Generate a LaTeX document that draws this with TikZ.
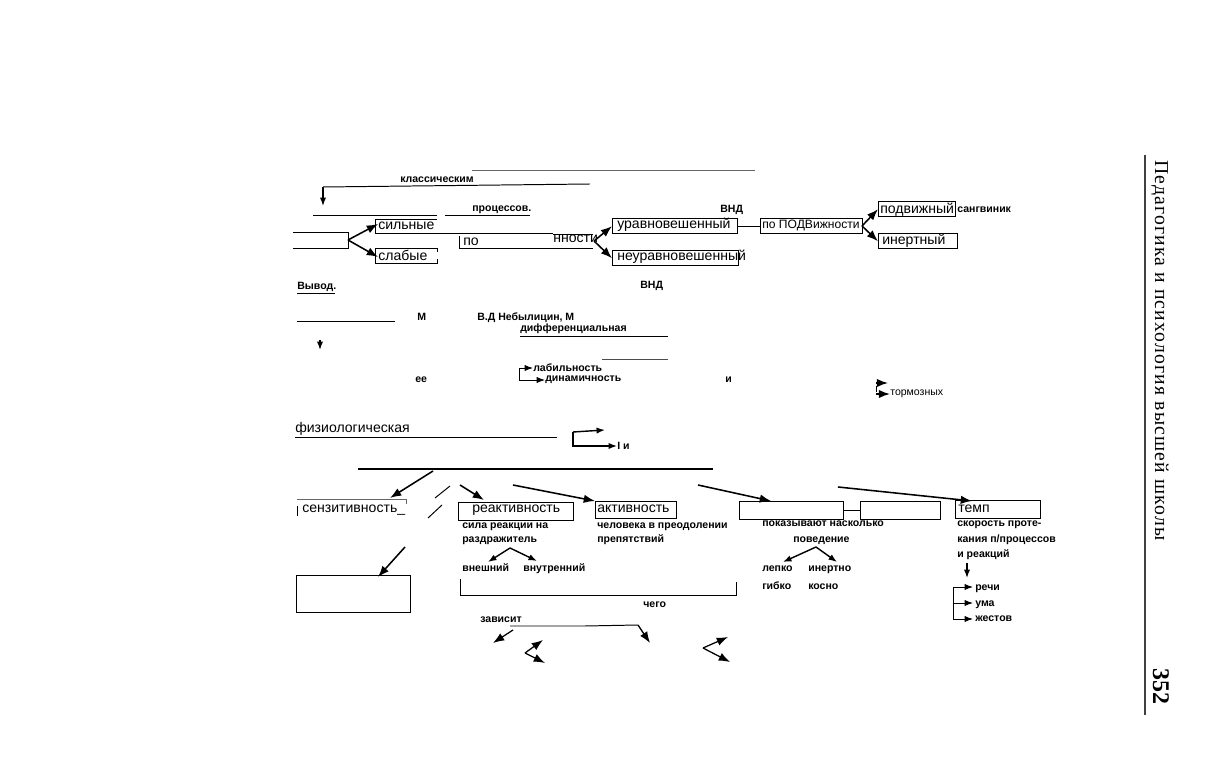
\documentclass[tikz,border=0pt]{standalone}
\usepackage{fontspec}
\setmainfont{Liberation Sans}
\newfontfamily\headfont[LetterSpace=6]{Liberation Serif}
\newfontfamily\numfont{Liberation Serif}
\usetikzlibrary{arrows.meta}

\tikzset{
  lab/.style={inner sep=0pt, anchor=base west, font=\fontsize{10}{12}\selectfont},
  sml/.style={inner sep=0pt, anchor=base west, font=\fontsize{7.5}{9}\selectfont\bfseries},
  arr/.style={-{Latex[length=8pt,width=6pt]}, line width=1.1pt},
  arrs/.style={-{Latex[length=6pt,width=4.5pt]}, line width=0.7pt},
  ln/.style={line width=0.7pt},
  box/.style={draw, line width=1pt, inner sep=0pt, anchor=north west},
}

\begin{document}
\begin{tikzpicture}[x=0.025cm, y=-0.025cm]
 \useasboundingbox[fill=white] (0,0) rectangle (1224,760);

 %%%%%%%%%% Points pour travailler %%%%%%%%%%
 \coordinate (t1) at (472,170);
 \coordinate (t2) at (755,170);
 \coordinate (k1) at (590,184);
 \coordinate (k2) at (323,187);
 \coordinate (k3) at (323,206);
 \coordinate (g) at (348,240);
 \coordinate (n) at (594,241);
 \coordinate (pd) at (862,226);

 %%%%%%%%%% Boites du haut %%%%%%%%%%
 \node [box, minimum width=3.125cm, minimum height=0.375cm] (urav) at (612,218) {};
 \node [box, minimum width=3.15cm, minimum height=0.375cm] (neurav) at (612,250) {};
 \node [box, minimum width=2.55cm, minimum height=0.375cm] (podv) at (760,218) {};
 \node [box, minimum width=1.925cm, minimum height=0.375cm] (podvizh) at (878,201) {};
 \node [box, minimum width=1.975cm, minimum height=0.375cm] (inert) at (878,233) {};

 % lignes du haut
 \draw [ln, black!60] (t1) -- (t2) ;
 \node [sml] (klass) at (400,183) {классическим};
 \draw [ln] (k1) -- (k2) ;
 \draw [arrs, line width=1pt] (k2) -- (k3) ;
 \draw [ln] (313,215) -- (437,215) ;
 \draw [ln] (445,215) -- (530,215) ;
 \node [sml] (proc) at (472,212) {процессов.};
 \node [sml] (vnd1) at (720,213) {ВНД};

 % sila
 \draw [ln] (293,232) -- (348,232) -- (348,248) -- (293,248) ;
 \draw [ln] (437,219) -- (375,219) -- (375,233) -- (553,233) ;
 \draw [ln] (437,252) -- (437,248) -- (375,248) -- (375,263) -- (437,263) -- (437,259) ;
 \node [lab] (silnye) at (378,230) {сильные};
 \node [lab] (slabye) at (378,261) {слабые};
 \draw [arr] (g) -- (silnye.west |- 0,224) ;
 \draw [arr] (g) -- (slabye.west |- 0,257) ;

 % uravnoveshennost
 \draw [ln] (459,236) -- (459,248) -- (593,248) ;
 \draw [ln] (553,234) -- (593,234) ;
 \node [lab] (po) at (463,246) {по};
 \node [lab] (nnosti) at (553,243) {нности};
 \draw [arr] (n) -- (urav.west) ;
 \draw [arr] (n) -- (neurav.west) ;
 \node [lab] (uravt) at (617,229) {уравновешенный};
 \node [lab] (neuravt) at (617,261) {неуравновешенный};

 % podvizhnost
 \draw [ln] (urav.east) -- (podv.west) ;
 \node [lab, font=\fontsize{8.6}{10}\selectfont] (podvt) at (762,229) {по ПОДВижности};
 \draw [arr] (pd) -- (podvizh.west) ;
 \draw [arr] (pd) -- (inert.west) ;
 \node [lab] (podvizht) at (880,214) {подвижный};
 \node [lab] (inertt) at (882,245) {инертный};
 \node [sml] (sangv) at (957,213) {сангвиник};

 %%%%%%%%%% Milieu %%%%%%%%%%
 \node [sml] (vyvod) at (297,290) {Вывод.};
 \draw [ln] (297,293) -- (335,293) ;
 \node [sml] (vnd2) at (640,289) {ВНД};
 \draw [ln] (297,321) -- (395,321) ;
 \node [sml] (m1) at (417,321) {М};
 \node [sml] (nebyl) at (477,321) {В.Д Небылицин,};
 \node [sml] (m2) at (565,321) {М};
 \node [sml] (diff) at (520,332) {дифференциальная};
 \draw [ln] (520,336) -- (668,336) ;
 \draw [arrs, line width=1pt] (320,340) -- (320,350) ;
 \draw [ln, black!70] (602,359) -- (668,359) ;

 \node [sml] (labil) at (533,372) {лабильность};
 \node [sml] (dinam) at (545,382) {динамичность};
 \draw [arrs] (519,368) -- (labil.west |- 0,368) ;
 \draw [arrs] (519,368) |- (dinam.west |- 0,380) ;
 \node [sml] (ee) at (415,383) {ее};
 \node [sml] (i1) at (725,383) {и};

 \node [sml, font=\fontsize{7.5}{9}\selectfont] (torm) at (890,396) {тормозных};
 \draw [arr] (876,383) -- (888,383) ;
 \draw [arr] (876,394) -- (torm.west |- 0,394) ;
 \draw [ln] (876,386) -- (876,392) ;

 \node [lab] (fiz) at (295,433) {физиологическая};
 \draw [ln] (295,437) -- (557,437) ;
 \draw [arrs, line width=1pt] (573,432) -- (605,430) ;
 \node [sml] (i2) at (617,450) {I и};
 \draw [arrs, line width=1pt] (573,432) |- (i2.west |- 0,446) ;

 %%%%%%%%%% Rangee des boites %%%%%%%%%%
 \coordinate (h1) at (358,469);
 \coordinate (h2) at (713,469);
 \draw [line width=1pt] (h1) -- (h2) ;

 \node [box, minimum width=2.875cm, minimum height=0.45cm] (react) at (458,502) {};
 \node [box, minimum width=2.025cm, minimum height=0.425cm] (aktiv) at (595,501) {};
 \node [box, minimum width=2.6cm, minimum height=0.45cm] (vide1) at (739,501) {};
 \node [box, minimum width=2cm, minimum height=0.45cm] (vide2) at (860,501) {};
 \node [box, minimum width=2.125cm, minimum height=0.45cm] (temp) at (955,500) {};
 \node [box, minimum width=2.85cm, minimum height=0.925cm] (vide3) at (296,575) {};
 \draw [ln] (vide1.east) -- (vide2.west) ;

 \draw [ln, black!60] (297,499) -- (406,499) -- (406,504) ;
 \draw [ln] (297,506) -- (297,516) ;
 \node [lab] (senz) at (302,513) {сензитивность\_};
 \node [lab] (reactt) at (472,513) {реактивность};
 \node [lab] (aktivt) at (597,513) {активность};
 \node [lab] (tempt) at (958,513) {темп};

 \draw [arr] (433,471) -- (390,498) ;
 \draw [ln] (450,486) -- (435,498) ;
 \draw [ln] (442,505) -- (428,518) ;
 \draw [arr] (460,485) -- (484,500) ;
 \draw [arr] (513,485) -- (aktiv.north west) ;
 \draw [arr] (698,485) -- (771,501) ;
 \draw [arr] (838,487) -- (972,501) ;
 \draw [arr] (405,547) -- (378,577) ;

 %%%%%%%%%% Textes du bas %%%%%%%%%%
 \node [sml] (sila) at (462,528) {сила реакции на};
 \node [sml] (razdr) at (462,542) {раздражитель};
 \node [sml] (chel) at (597,528) {человека в преодолении};
 \node [sml] (prep) at (597,542) {препятствий};
 \node [sml] (pokaz) at (762,527) {показывают насколько};
 \node [sml] (poved) at (793,542) {поведение};
 \node [sml] (skor) at (957,527) {скорость проте-};
 \node [sml] (kan) at (957,542) {кания п/процессов};
 \node [sml] (ireak) at (957,557) {и реакций};

 \node [sml] (vnesh) at (462,571) {внешний};
 \node [sml] (vnutr) at (523,571) {внутренний};
 \coordinate (r) at (510,548);
 \draw [arrs, line width=1pt] (r) -- (488,562) ;
 \draw [arrs, line width=1pt] (r) -- (537,561) ;

 \node [sml] (legko) at (762,571) {лепко};
 \node [sml] (inertno) at (808,571) {инертно};
 \node [sml] (gibko) at (762,589) {гибко};
 \node [sml] (kosno) at (808,589) {косно};
 \coordinate (p) at (816,547);
 \draw [arrs, line width=1pt] (p) -- (783,562) ;
 \draw [arrs, line width=1pt] (p) -- (837,562) ;

 \draw [arrs, line width=1pt] (967,563) -- (967,578) ;
 \node [sml] (rechi) at (975,590) {речи};
 \node [sml] (uma) at (975,606) {ума};
 \node [sml] (zhest) at (975,621) {жестов};
 \draw [ln] (953,587) -- (953,619) ;
 \draw [arrs] (953,587) -- (973,587) ;
 \draw [arrs] (953,603) -- (973,603) ;
 \draw [arrs] (953,619) -- (973,619) ;

 \draw [ln] (460,579) -- (460,595) -- (736,595) -- (736,582) ;
 \node [sml] (chego) at (643,607) {чего};
 \node [sml] (zavis) at (480,622) {зависит};
 \draw [ln] (510,626) -- (585,626) -- (638,625) ;
 \draw [arr, line width=0.9pt] (638,625) -- (650,643) ;
 \draw [arr, line width=0.9pt] (513,630) -- (493,643) ;
 \coordinate (v1) at (525,653);
 \draw [arr, line width=0.9pt] (v1) -- (543,640) ;
 \draw [arr, line width=0.9pt] (v1) -- (545,663) ;
 \coordinate (v2) at (703,648);
 \draw [arr, line width=0.9pt] (v2) -- (728,637) ;
 \draw [arr, line width=0.9pt] (v2) -- (730,662) ;

 %%%%%%%%%% Titre courant %%%%%%%%%%
 \draw [line width=1.4pt, black!75] (1145,155) -- (1145,715) ;
 \node [rotate=-90, anchor=base west, inner sep=0pt, font=\headfont\fontsize{14}{16}\selectfont] (titre) at (1155,160) {Педагогика и психология высшей школы};
 \node [rotate=-90, anchor=base west, inner sep=0pt, font=\numfont\bfseries\fontsize{17}{19}\selectfont] (page) at (1153,668) {352};

\end{tikzpicture}
\end{document}
